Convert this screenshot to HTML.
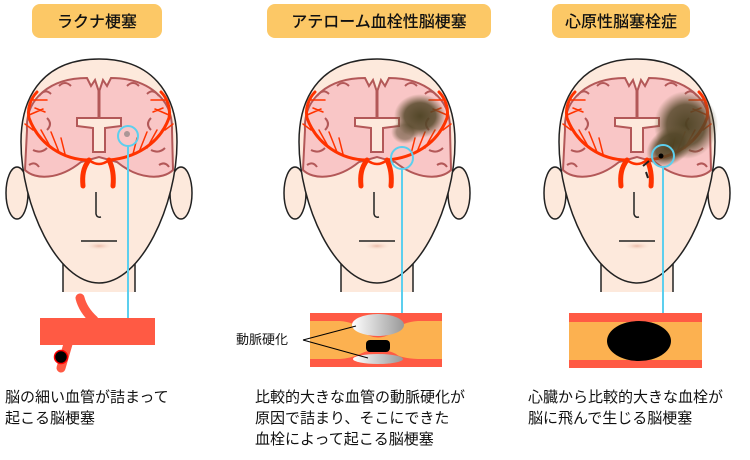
<!DOCTYPE html>
<html><head><meta charset="utf-8"><style>
body{margin:0;background:#fff;width:750px;height:460px;overflow:hidden}
svg{display:block}
text{font-family:"Liberation Sans","Noto Sans CJK JP",sans-serif}
</style></head><body>
<svg width="750" height="460" viewBox="0 0 750 460" xmlns="http://www.w3.org/2000/svg">
<defs>
<radialGradient id="inf" cx="50%" cy="50%" r="50%"><stop offset="0" stop-color="#4a4020" stop-opacity="0.95"/><stop offset="0.6" stop-color="#55482a" stop-opacity="0.85"/><stop offset="1" stop-color="#6b5a3a" stop-opacity="0"/></radialGradient>
<linearGradient id="pl" x1="0" x2="1"><stop offset="0" stop-color="#fff"/><stop offset="1" stop-color="#999"/></linearGradient>
<radialGradient id="lip" cx="50%" cy="50%" r="50%"><stop offset="0" stop-color="#e9b9a6"/><stop offset="1" stop-color="#fde9dc" stop-opacity="0"/></radialGradient>
<g id="head">
  <ellipse cx="-82" cy="193" rx="11" ry="26" fill="#fde9dc" stroke="#222" stroke-width="1.5"/>
  <ellipse cx="82" cy="193" rx="11" ry="26" fill="#fde9dc" stroke="#222" stroke-width="1.5"/>
  <rect x="-36" y="250" width="72" height="42" fill="#fde9dc"/>
  <line x1="-36" y1="250" x2="-36" y2="292" stroke="#222" stroke-width="1.5"/>
  <line x1="36" y1="250" x2="36" y2="292" stroke="#222" stroke-width="1.5"/>
  <path d="M0,59 C52,59 78,92 78,142 C78,205 42,283 0,283 C-42,283 -78,205 -78,142 C-78,92 -52,59 0,59Z" fill="#fde9dc" stroke="#222" stroke-width="1.5"/>
  <path d="M-72,130 C-74,98 -48,78 -12,78 L-8,86 L-4,80 L0,92 L4,80 L8,86 L12,78 C48,78 74,98 73,130 L74,170 C64,180 40,180 18,162 L0,157 L-18,162 C-40,180 -64,180 -74,170 Z" fill="#f9c6c6" stroke="#b35858" stroke-width="2"/>
  <path d="M-60,96 q6,-8 12,-2 M-40,86 q6,-6 12,0 M28,86 q6,-6 12,0 M48,94 q6,-6 12,2 M-66,150 q8,4 14,-2 M52,150 q8,4 14,-2 M-52,118 q6,6 0,12 M52,118 q-6,6 0,12 M-70,165 q6,-4 10,2 M60,165 q6,-4 10,2" fill="none" stroke="#b35858" stroke-width="2"/>
  <line x1="0" y1="90" x2="0" y2="118" stroke="#b35858" stroke-width="3"/>
  <path d="M-22,118 L22,118 L22,126 L6,128 L6,152 L-6,152 L-6,128 L-22,126Z" fill="#fde9dc" stroke="#b35858" stroke-width="2"/>
  <g fill="none" stroke="#ff3300" stroke-linecap="round">
    <path d="M-16,186 C-17,176 -16,168 -10,160" stroke-width="5"/>
    <path d="M14,186 C15,176 14,168 10,160" stroke-width="5"/>
    <path d="M-10,160 Q0,168 10,160" stroke-width="2.5"/>
    <path d="M-10,160 C-35,160 -60,145 -70,118 C-72,108 -68,98 -62,92" stroke-width="3"/>
    <path d="M10,160 C35,158 60,145 70,118 C72,108 68,98 62,92" stroke-width="3"/>
    <path d="M-48,148 l-10,-18 M-40,152 l-8,-20 M-34,154 l-4,-16 M-66,130 l-8,-6 M-70,115 l14,-6 M-66,100 l14,0 M-64,108 l10,4 M40,152 l8,-20 M34,154 l4,-16 M48,148 l10,-18 M66,130 l8,-6 M70,115 l-14,-6 M66,100 l-14,0 M64,108 l-10,4" stroke-width="1.5"/>
  </g>
  <path d="M-3,192 L-3,214 Q-2,218 2,217" fill="none" stroke="#222" stroke-width="1.5"/>
  <ellipse cx="0" cy="246" rx="14" ry="4" fill="url(#lip)"/>
  <line x1="-18" y1="241" x2="18" y2="241" stroke="#222" stroke-width="1.5"/>
</g>
</defs>

<rect x="32" y="4" width="130" height="34" rx="8" fill="#fcc866"/>
<text x="97" y="27" font-size="16" text-anchor="middle" font-weight="500" fill="#111">ラクナ梗塞</text>
<rect x="267" y="4" width="224" height="34" rx="8" fill="#fcc866"/>
<text x="379" y="27" font-size="16" text-anchor="middle" font-weight="500" fill="#111">アテローム血栓性脳梗塞</text>
<rect x="552" y="4" width="138" height="34" rx="8" fill="#fcc866"/>
<text x="621" y="27" font-size="16" text-anchor="middle" font-weight="500" fill="#111">心原性脳塞栓症</text>

<use href="#head" transform="translate(99,0)"/>
<use href="#head" transform="translate(377,0)"/>
<use href="#head" transform="translate(637,0)"/>

<circle cx="127" cy="134" r="3" fill="#777" opacity="0.6"/>
<circle cx="128" cy="136" r="10" fill="none" stroke="#5ccfee" stroke-width="2"/>
<line x1="128" y1="146" x2="128" y2="318" stroke="#5ccfee" stroke-width="2"/>

<ellipse cx="420" cy="116" rx="26" ry="22" fill="url(#inf)"/>
<ellipse cx="405" cy="132" rx="14" ry="12" fill="url(#inf)" opacity="0.6"/>
<circle cx="402" cy="158" r="11" fill="none" stroke="#5ccfee" stroke-width="2"/>
<line x1="402" y1="169" x2="402" y2="313" stroke="#5ccfee" stroke-width="2"/>

<ellipse cx="686" cy="125" rx="32" ry="34" fill="url(#inf)"/>
<ellipse cx="670" cy="146" rx="26" ry="18" fill="url(#inf)" transform="rotate(-35 670 146)"/>
<circle cx="661" cy="156" r="2.5" fill="#000"/>
<path d="M643,166 l6,-5 M646,172 l2,6" stroke="#222" stroke-width="2"/>
<circle cx="663" cy="156" r="11" fill="none" stroke="#5ccfee" stroke-width="2"/>
<line x1="663" y1="167" x2="663" y2="313" stroke="#5ccfee" stroke-width="2"/>

<path d="M80,298 Q83,310 94,320" stroke="#ff5a44" stroke-width="9" fill="none" stroke-linecap="round"/>
<path d="M68,344 L61,368" stroke="#ff5a44" stroke-width="9" fill="none" stroke-linecap="round"/>
<rect x="40" y="318" width="115" height="27" fill="#ff5a44"/>
<circle cx="61" cy="357" r="6.5" fill="#000" stroke="#ff0000" stroke-width="1.5"/>

<rect x="310" y="313" width="132" height="54" fill="#ff5a44"/>
<path d="M310,321 L340,321 Q355,322 360,330 Q378,345 396,330 Q402,322 418,321 L442,321 L442,359 L418,359 Q400,358 396,354 Q378,345 360,354 Q352,358 340,359 L310,359Z" fill="#fcb150"/>
<ellipse cx="378" cy="325" rx="26" ry="11" fill="url(#pl)"/>
<ellipse cx="378" cy="359" rx="25" ry="5" fill="url(#pl)"/>
<rect x="366" y="340" width="24" height="12" rx="4" fill="#000"/>
<line x1="303" y1="340" x2="356" y2="326" stroke="#000" stroke-width="1"/>
<line x1="303" y1="340" x2="368" y2="358" stroke="#000" stroke-width="1"/>
<text x="236" y="344" font-size="13" fill="#111">動脈硬化</text>

<rect x="569" y="313" width="133" height="55" fill="#ff5a44"/>
<rect x="569" y="322" width="133" height="38" fill="#fcb150"/>
<ellipse cx="639" cy="341" rx="32" ry="20" fill="#000"/>

<g font-size="15" fill="#111">
<text x="5" y="402">脳の細い血管が詰まって</text>
<text x="5" y="423">起こる脳梗塞</text>
<text x="255" y="402">比較的大きな血管の動脈硬化が</text>
<text x="255" y="423">原因で詰まり、そこにできた</text>
<text x="255" y="444">血栓によって起こる脳梗塞</text>
<text x="528" y="402">心臓から比較的大きな血栓が</text>
<text x="528" y="423">脳に飛んで生じる脳梗塞</text>
</g>
</svg>
</body></html>
